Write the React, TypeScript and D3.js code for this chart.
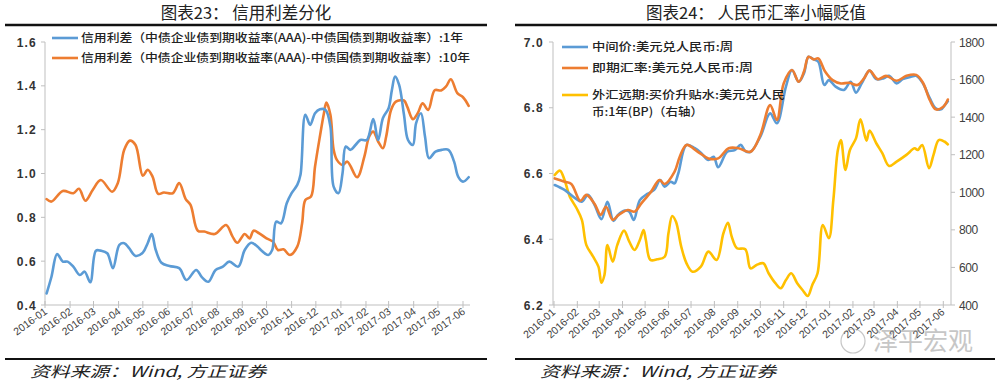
import React from 'react';
import * as d3 from 'd3';

// ---------- Chart 23 data ----------
const spread1YDates = ["2016-01-03","2016-01-09","2016-01-16","2016-01-23","2016-01-29","2016-02-05","2016-02-13","2016-02-19","2016-02-26","2016-03-04","2016-03-10","2016-03-18","2016-03-25","2016-04-02","2016-04-08","2016-04-14","2016-04-22","2016-05-01","2016-05-07","2016-05-12","2016-05-17","2016-05-24","2016-06-03","2016-06-15","2016-06-24","2016-07-06","2016-07-13","2016-07-21","2016-07-30","2016-08-08","2016-08-16","2016-08-27","2016-09-04","2016-09-12","2016-09-20","2016-09-24","2016-10-03","2016-10-08","2016-10-13","2016-10-19","2016-10-26","2016-11-01","2016-11-08","2016-11-12","2016-11-18","2016-11-24","2016-11-30","2016-12-06","2016-12-13","2016-12-19","2016-12-23","2016-12-29","2017-01-03","2017-01-07","2017-01-13","2017-01-19","2017-01-25","2017-02-02","2017-02-10","2017-02-16","2017-02-22","2017-03-01","2017-03-05","2017-03-09","2017-03-14","2017-03-20","2017-03-25","2017-03-31","2017-04-04","2017-04-10","2017-04-15","2017-04-20","2017-04-28","2017-05-06","2017-05-14","2017-05-21","2017-05-26","2017-06-01","2017-06-08"];
const spread1YValues = [0.453,0.529,0.633,0.598,0.598,0.575,0.537,0.552,0.504,0.648,0.648,0.636,0.568,0.674,0.682,0.659,0.624,0.639,0.682,0.724,0.651,0.593,0.578,0.568,0.514,0.56,0.527,0.506,0.56,0.575,0.598,0.575,0.651,0.684,0.666,0.651,0.628,0.651,0.78,0.773,0.864,0.91,0.948,0.994,1.268,1.222,1.275,1.293,1.29,1.214,0.94,0.91,1.001,1.123,1.108,1.13,1.153,1.153,1.248,1.153,1.253,1.298,1.38,1.442,1.404,1.268,1.153,1.13,1.23,1.275,1.169,1.07,1.1,1.108,1.108,1.054,0.986,0.963,0.983];

const spread10YDates = ["2016-01-03","2016-01-09","2016-01-23","2016-02-05","2016-02-12","2016-02-20","2016-02-29","2016-03-10","2016-03-24","2016-03-31","2016-04-08","2016-04-15","2016-04-22","2016-05-01","2016-05-07","2016-05-13","2016-05-20","2016-05-27","2016-06-07","2016-06-15","2016-06-23","2016-06-29","2016-07-08","2016-07-16","2016-07-29","2016-08-12","2016-08-20","2016-08-26","2016-09-04","2016-09-10","2016-09-15","2016-09-22","2016-10-01","2016-10-09","2016-10-15","2016-10-22","2016-10-30","2016-11-08","2016-11-14","2016-11-18","2016-11-25","2016-11-30","2016-12-06","2016-12-11","2016-12-14","2016-12-19","2016-12-23","2016-12-27","2017-01-03","2017-01-09","2017-01-21","2017-01-30","2017-02-05","2017-02-10","2017-02-16","2017-02-22","2017-02-26","2017-03-04","2017-03-10","2017-03-20","2017-03-24","2017-03-31","2017-04-06","2017-04-12","2017-04-19","2017-04-27","2017-05-05","2017-05-11","2017-05-17","2017-05-25","2017-06-01","2017-06-08"];
const spread10YValues = [0.883,0.872,0.92,0.91,0.93,0.876,0.925,0.97,0.917,0.956,1.108,1.15,1.13,0.99,1.017,0.986,0.907,0.913,0.91,0.956,0.883,0.857,0.739,0.735,0.724,0.765,0.712,0.684,0.724,0.704,0.739,0.727,0.704,0.689,0.651,0.654,0.628,0.666,0.773,0.879,0.895,1.032,1.169,1.275,1.324,1.268,1.108,1.062,1.039,1.054,0.983,1.077,1.169,1.191,1.146,1.115,1.169,1.29,1.328,1.333,1.305,1.248,1.275,1.32,1.29,1.38,1.379,1.397,1.43,1.367,1.348,1.309];

const leftTicks = [0.4, 0.6, 0.8, 1.0, 1.2, 1.4, 1.6];
const leftLegend = [
  "信用利差（中债企业债到期收益率(AAA)-中债国债到期收益率）:1年",
  "信用利差（中债企业债到期收益率(AAA)-中债国债到期收益率）:10年",
];

// ---------- Chart 24 data ----------
const midDates = ["2016-01-02","2016-01-15","2016-01-29","2016-02-07","2016-02-15","2016-02-24","2016-03-04","2016-03-12","2016-03-20","2016-03-26","2016-04-04","2016-04-10","2016-04-16","2016-04-24","2016-05-04","2016-05-13","2016-05-21","2016-05-27","2016-06-04","2016-06-09","2016-06-14","2016-06-25","2016-07-06","2016-07-15","2016-07-24","2016-07-31","2016-08-06","2016-08-18","2016-08-28","2016-09-05","2016-09-11","2016-09-18","2016-10-01","2016-10-14","2016-10-23","2016-11-04","2016-11-12","2016-11-21","2016-11-28","2016-12-04","2016-12-11","2016-12-17","2016-12-25","2016-12-31","2017-01-09","2017-01-20","2017-01-29","2017-02-05","2017-02-13","2017-02-23","2017-03-04","2017-03-14","2017-03-21","2017-03-31","2017-04-08","2017-04-19","2017-04-26","2017-05-05","2017-05-14","2017-05-22","2017-05-29","2017-06-03","2017-06-07"];
const midValues = [6.565,6.55,6.525,6.514,6.535,6.504,6.461,6.514,6.456,6.474,6.487,6.484,6.459,6.519,6.538,6.55,6.58,6.56,6.575,6.57,6.6,6.687,6.677,6.661,6.641,6.651,6.619,6.666,6.671,6.687,6.668,6.666,6.712,6.783,6.753,6.864,6.915,6.879,6.905,6.955,6.947,6.94,6.869,6.884,6.864,6.854,6.879,6.846,6.876,6.913,6.887,6.89,6.897,6.874,6.887,6.894,6.897,6.874,6.829,6.798,6.795,6.808,6.82];

const spotDates = ["2016-01-02","2016-01-15","2016-01-24","2016-02-05","2016-02-13","2016-02-24","2016-03-03","2016-03-10","2016-03-19","2016-03-27","2016-04-08","2016-04-17","2016-04-26","2016-05-09","2016-05-20","2016-05-27","2016-06-09","2016-06-16","2016-06-25","2016-07-10","2016-07-24","2016-08-06","2016-08-20","2016-09-02","2016-09-18","2016-10-01","2016-10-14","2016-10-23","2016-11-01","2016-11-12","2016-11-21","2016-11-28","2016-12-04","2016-12-11","2016-12-17","2016-12-26","2017-01-05","2017-01-16","2017-01-27","2017-02-07","2017-02-16","2017-02-23","2017-03-06","2017-03-17","2017-03-31","2017-04-13","2017-04-26","2017-05-05","2017-05-14","2017-05-22","2017-06-01","2017-06-07"];
const spotValues = [6.585,6.575,6.568,6.517,6.535,6.507,6.474,6.499,6.459,6.474,6.489,6.484,6.509,6.545,6.58,6.568,6.605,6.651,6.687,6.666,6.646,6.646,6.677,6.677,6.666,6.717,6.808,6.763,6.874,6.915,6.879,6.91,6.955,6.947,6.95,6.91,6.884,6.874,6.876,6.869,6.89,6.913,6.887,6.897,6.882,6.897,6.9,6.876,6.824,6.795,6.803,6.825];

const fwdDates = ["2016-01-02","2016-01-09","2016-01-15","2016-01-22","2016-01-31","2016-02-07","2016-02-13","2016-02-22","2016-02-29","2016-03-04","2016-03-08","2016-03-12","2016-03-19","2016-03-25","2016-04-03","2016-04-10","2016-04-17","2016-04-24","2016-04-29","2016-05-02","2016-05-08","2016-05-17","2016-05-27","2016-06-01","2016-06-06","2016-06-11","2016-06-18","2016-06-25","2016-07-03","2016-07-14","2016-07-24","2016-08-04","2016-08-13","2016-08-19","2016-08-24","2016-08-31","2016-09-11","2016-09-18","2016-09-26","2016-10-05","2016-10-12","2016-10-21","2016-10-28","2016-11-04","2016-11-11","2016-11-19","2016-11-26","2016-12-03","2016-12-09","2016-12-16","2016-12-23","2016-12-31","2017-01-06","2017-01-12","2017-01-16","2017-01-22","2017-01-28","2017-02-05","2017-02-11","2017-02-19","2017-02-23","2017-03-04","2017-03-12","2017-03-21","2017-03-31","2017-04-13","2017-04-24","2017-04-28","2017-05-04","2017-05-13","2017-05-19","2017-05-26","2017-06-03","2017-06-07"];
const fwdValues = [1092,1115,1065,977,915,853,719,657,604,519,560,719,631,719,796,737,693,746,799,746,640,643,657,782,874,843,710,622,577,604,684,640,782,838,764,702,697,595,613,622,569,516,489,533,569,516,480,448,507,569,826,755,959,1225,1278,1119,1225,1287,1389,1275,1328,1261,1208,1140,1163,1199,1234,1225,1252,1128,1199,1278,1269,1255];

const rightLeftTicks = [6.2, 6.4, 6.6, 6.8, 7.0];
const rightRightTicks = [400, 600, 800, 1000, 1200, 1400, 1600, 1800];

const BLUE = "#5B9BD5";
const ORANGE = "#ED7D31";
const YELLOW = "#FFC000";
const AXIS = "#BFBFBF";
const CJK = "'Noto Sans CJK SC', 'Noto Sans', sans-serif";
const LAT = "'Liberation Sans', Arial, sans-serif";

const parse = d3.timeParse("%Y-%m-%d");
const zip = (ds: string[], vs: number[]) => ds.slice(0, Math.min(ds.length, vs.length)).map((d, i) => [parse(d) as Date, vs[i]] as [Date, number]);

const startM = new Date(2016, 0, 1);
const endM = new Date(2017, 5, 1);
const months = d3.timeMonth.range(startM, new Date(2017, 5, 2));
const fmt = d3.timeFormat("%Y-%m");

export default function App() {
  const xL = d3.scaleTime().domain([startM, endM]).range([45, 463]);
  const yL = d3.scaleLinear().domain([0.4, 1.6]).range([305, 42]);
  const xR = d3.scaleTime().domain([startM, endM]).range([554, 943.3]);
  const yR = d3.scaleLinear().domain([6.2, 7.0]).range([305, 42]);
  const yR2 = d3.scaleLinear().domain([400, 1800]).range([305, 42]);

  const curve = d3.curveCatmullRom.alpha(0.5);
  const mk = (x: any, y: any) => d3.line<[Date, number]>().x(d => x(d[0])).y(d => y(d[1])).curve(curve);

  const l1 = mk(xL, yL)(zip(spread1YDates, spread1YValues)) || "";
  const l10 = mk(xL, yL)(zip(spread10YDates, spread10YValues)) || "";
  const lMid = mk(xR, yR)(zip(midDates, midValues)) || "";
  const lSpot = mk(xR, yR)(zip(spotDates, spotValues)) || "";
  const lFwd = mk(xR, yR2)(zip(fwdDates, fwdValues)) || "";

  const lineStyle = { fill: "none", strokeWidth: 2.6, strokeLinejoin: "round" as const, strokeLinecap: "round" as const };

  return (
    <svg width={1000} height={384} style={{ position: "absolute", left: 0, top: 0, background: "#fff" }}>
      <rect x={0} y={0} width={1000} height={384} fill="#fff" />
      <text x={246} y={19} textAnchor="middle" fontFamily={CJK} fontSize={16.5} fill="#222">图表23：  信用利差分化</text>
      <text x={756} y={19} textAnchor="middle" fontFamily={CJK} fontSize={16.5} fill="#222">图表24：  人民币汇率小幅贬值</text>
      <line x1={5} x2={487} y1={25} y2={25} stroke="#111" strokeWidth={2.5} />
      <line x1={515} x2={997} y1={25} y2={25} stroke="#111" strokeWidth={2.5} />
      <line x1={5} x2={487} y1={359} y2={359} stroke="#111" strokeWidth={2} />
      <line x1={515} x2={995} y1={359} y2={359} stroke="#111" strokeWidth={2} />
      <text x={30} y={377} fontFamily={CJK} fontStyle="italic" fontSize={15} fill="#222" textLength={236} lengthAdjust="spacingAndGlyphs">资料来源：Wind, 方正证券</text>
      <text x={540} y={377} fontFamily={CJK} fontStyle="italic" fontSize={15} fill="#222" textLength={236} lengthAdjust="spacingAndGlyphs">资料来源：Wind, 方正证券</text>

      {/* ---------- Left chart ---------- */}
      <line x1={45} x2={45} y1={yL(1.6)} y2={yL(0.4)} stroke={AXIS} />
      <line x1={45} x2={470} y1={yL(0.4)} y2={yL(0.4)} stroke={AXIS} />
      {leftTicks.map(t => (
        <g key={"lt" + t}>
          <line x1={41} x2={45} y1={yL(t)} y2={yL(t)} stroke={AXIS} />
          <text x={37} y={yL(t) + 4.5} textAnchor="end" fontFamily={LAT} fontWeight="bold" fontSize={12} letterSpacing={1.2} fill="#333">{t.toFixed(1)}</text>
        </g>
      ))}
      {months.map(m => (
        <g key={"lx" + m.getTime()}>
          <line x1={xL(m)} x2={xL(m)} y1={301} y2={308} stroke={AXIS} />
          <text transform={`translate(${xL(m) + 3},${313}) rotate(-36)`} textAnchor="end" fontFamily={LAT} fontSize={10.5} fill="#404040">{fmt(m)}</text>
        </g>
      ))}
      <path d={l10} stroke={ORANGE} {...lineStyle} />
      <path d={l1} stroke={BLUE} {...lineStyle} />
      <line x1={52} x2={78} y1={38} y2={38} stroke={BLUE} strokeWidth={2.6} />
      <line x1={52} x2={78} y1={58} y2={58} stroke={ORANGE} strokeWidth={2.6} />
      <text x={81} y={42} fontFamily={CJK} fontWeight={500} fontSize={11.5} fill="#222" textLength={382} lengthAdjust="spacingAndGlyphs">{leftLegend[0]}</text>
      <text x={81} y={62} fontFamily={CJK} fontWeight={500} fontSize={11.5} fill="#222" textLength={389} lengthAdjust="spacingAndGlyphs">{leftLegend[1]}</text>

      {/* ---------- Right chart ---------- */}
      <line x1={553} x2={553} y1={yR(7.0)} y2={yR(6.2)} stroke={AXIS} />
      <line x1={951} x2={951} y1={yR(7.0)} y2={yR(6.2)} stroke={AXIS} />
      <line x1={553} x2={951} y1={yR(6.2)} y2={yR(6.2)} stroke={AXIS} />
      {rightLeftTicks.map(t => (
        <g key={"rl" + t}>
          <line x1={549} x2={553} y1={yR(t)} y2={yR(t)} stroke={AXIS} />
          <text x={544} y={yR(t) + 4.5} textAnchor="end" fontFamily={LAT} fontWeight="bold" fontSize={12} letterSpacing={1.2} fill="#333">{t.toFixed(1)}</text>
        </g>
      ))}
      {rightRightTicks.map(t => (
        <g key={"rr" + t}>
          <line x1={951} x2={955} y1={yR2(t)} y2={yR2(t)} stroke={AXIS} />
          <text x={959} y={yR2(t) + 4.5} textAnchor="start" fontFamily={LAT} fontSize={12} letterSpacing={-0.4} fill="#404040">{t}</text>
        </g>
      ))}
      {months.map(m => (
        <g key={"rx" + m.getTime()}>
          <line x1={xR(m)} x2={xR(m)} y1={301} y2={308} stroke={AXIS} />
          <text transform={`translate(${xR(m) + 2},${313}) rotate(-42)`} textAnchor="end" fontFamily={LAT} fontSize={10.5} fill="#404040">{fmt(m)}</text>
        </g>
      ))}
      <path d={lFwd} stroke={YELLOW} {...lineStyle} />
      <path d={lMid} stroke={BLUE} {...lineStyle} />
      <path d={lSpot} stroke={ORANGE} {...lineStyle} />
      <line x1={562} x2={588} y1={47} y2={47} stroke={BLUE} strokeWidth={2.6} />
      <line x1={562} x2={588} y1={68} y2={68} stroke={ORANGE} strokeWidth={2.6} />
      <line x1={562} x2={588} y1={95} y2={95} stroke={YELLOW} strokeWidth={2.6} />
      <text x={592} y={51} fontFamily={CJK} fontWeight={500} fontSize={11.5} fill="#222" textLength={141} lengthAdjust="spacingAndGlyphs">中间价:美元兑人民币:周</text>
      <text x={592} y={72} fontFamily={CJK} fontWeight={500} fontSize={11.5} fill="#222" textLength={161} lengthAdjust="spacingAndGlyphs">即期汇率:美元兑人民币:周</text>
      <text x={592} y={99} fontFamily={CJK} fontWeight={500} fontSize={11.5} fill="#222" textLength={193} lengthAdjust="spacingAndGlyphs">外汇远期:买价升贴水:美元兑人民</text>
      <text x={592} y={116} fontFamily={CJK} fontWeight={500} fontSize={11.5} fill="#222" textLength={111} lengthAdjust="spacingAndGlyphs">币:1年(BP)（右轴）</text>

      <g opacity={0.55}>
        <circle cx={853} cy={341} r={12} fill="none" stroke="#999" strokeWidth={1.2} />
        <text x={873} y={350} fontFamily={CJK} fontSize={25} fill="#999" textLength={100} lengthAdjust="spacingAndGlyphs">泽平宏观</text>
      </g>
    </svg>
  );
}
